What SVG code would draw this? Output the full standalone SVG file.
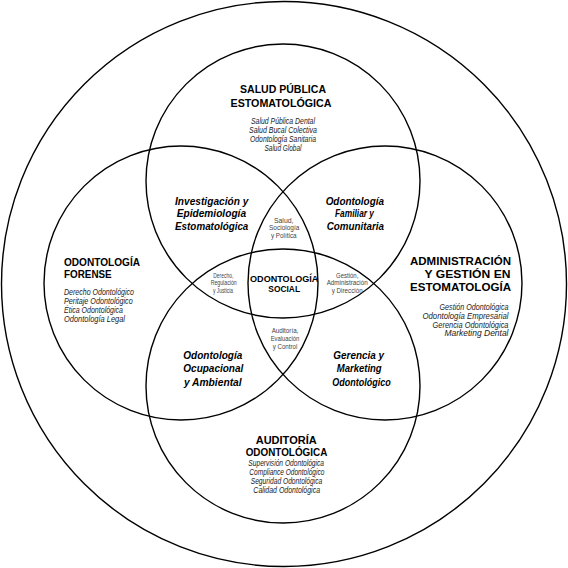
<svg xmlns="http://www.w3.org/2000/svg" width="568" height="568" viewBox="0 0 568 568">
<style>
text{font-family:"Liberation Sans",Arial,sans-serif;fill:#000}
.t{font-weight:bold}
.tm{text-anchor:middle}
.te{text-anchor:end}
.it{font-style:italic;font-size:8.4px;fill:#1a1a1a}
.bi{font-weight:bold;font-style:italic;font-size:11.6px;text-anchor:middle}
.sm{font-size:6.9px;fill:#444;text-anchor:middle}
.c{fill:none;stroke:#000;stroke-width:1.4}
</style>
<rect width="568" height="568" fill="#fff"/>
<g id="outer"><circle class="c" cx="284" cy="284" r="282.5"/></g>
<g id="salud-publica">
<circle class="c" cx="283" cy="181" r="137"/>
<text class="t tm" x="283" y="93.3" font-size="11.8" textLength="86" lengthAdjust="spacingAndGlyphs">SALUD PÚBLICA</text>
<text class="t tm" x="281" y="106.7" font-size="11.8" textLength="101" lengthAdjust="spacingAndGlyphs">ESTOMATOLÓGICA</text>
<text class="it tm" x="283" y="124.3" textLength="64" lengthAdjust="spacingAndGlyphs">Salud Pública Dental</text>
<text class="it tm" x="283" y="133.3" textLength="68" lengthAdjust="spacingAndGlyphs">Salud Bucal Colectiva</text>
<text class="it tm" x="283" y="142" textLength="66" lengthAdjust="spacingAndGlyphs">Odontología Sanitaria</text>
<text class="it tm" x="283" y="151" textLength="37" lengthAdjust="spacingAndGlyphs">Salud Global</text>
</g>
<g id="forense">
<circle class="c" cx="181" cy="283" r="137"/>
<text class="t" x="64" y="266" font-size="11" textLength="76" lengthAdjust="spacingAndGlyphs">ODONTOLOGÍA</text>
<text class="t" x="64" y="277.7" font-size="11" textLength="47.7" lengthAdjust="spacingAndGlyphs">FORENSE</text>
<text class="it" x="64" y="295.3" textLength="70" lengthAdjust="spacingAndGlyphs">Derecho Odontológico</text>
<text class="it" x="64" y="304.3" textLength="68.7" lengthAdjust="spacingAndGlyphs">Peritaje Odontológico</text>
<text class="it" x="64" y="313" textLength="59" lengthAdjust="spacingAndGlyphs">Ética Odontológica</text>
<text class="it" x="64" y="322" textLength="61" lengthAdjust="spacingAndGlyphs">Odontología Legal</text>
</g>
<g id="administracion">
<circle class="c" cx="385" cy="283" r="137"/>
<text class="t te" x="511" y="265" font-size="11.8" textLength="101" lengthAdjust="spacingAndGlyphs">ADMINISTRACIÓN</text>
<text class="t te" x="510.5" y="278" font-size="11.8" textLength="86" lengthAdjust="spacingAndGlyphs">Y GESTIÓN EN</text>
<text class="t te" x="511" y="291" font-size="11.8" textLength="101" lengthAdjust="spacingAndGlyphs">ESTOMATOLOGÍA</text>
<text class="it te" x="508.5" y="309.7" textLength="69" lengthAdjust="spacingAndGlyphs">Gestión Odontológica</text>
<text class="it te" x="508.5" y="318.7" textLength="86" lengthAdjust="spacingAndGlyphs">Odontología Empresarial</text>
<text class="it te" x="508.5" y="327.7" textLength="76" lengthAdjust="spacingAndGlyphs">Gerencia Odontológica</text>
<text class="it te" x="508.5" y="336.3" textLength="64" lengthAdjust="spacingAndGlyphs">Marketing Dental</text>
</g>
<g id="auditoria">
<circle class="c" cx="283" cy="386" r="137"/>
<text class="t tm" x="286.2" y="444" font-size="11.3" textLength="61" lengthAdjust="spacingAndGlyphs">AUDITORÍA</text>
<text class="t tm" x="286.5" y="456" font-size="11.3" textLength="81.6" lengthAdjust="spacingAndGlyphs">ODONTOLÓGICA</text>
<text class="it tm" x="286.2" y="466.3" textLength="75.7" lengthAdjust="spacingAndGlyphs">Supervisión Odontológica</text>
<text class="it tm" x="286.8" y="475.3" textLength="75" lengthAdjust="spacingAndGlyphs">Compliance Odontológico</text>
<text class="it tm" x="286.5" y="484.3" textLength="71.6" lengthAdjust="spacingAndGlyphs">Seguridad Odontológica</text>
<text class="it tm" x="286.7" y="493" textLength="66.7" lengthAdjust="spacingAndGlyphs">Calidad Odontológica</text>
</g>
<g id="investigacion">
<text class="bi" x="211.7" y="205" textLength="73.3" lengthAdjust="spacingAndGlyphs">Investigación y</text>
<text class="bi" x="211.4" y="217.3" textLength="69.3" lengthAdjust="spacingAndGlyphs">Epidemiología</text>
<text class="bi" x="211.7" y="230" textLength="73.3" lengthAdjust="spacingAndGlyphs">Estomatológica</text>
</g>
<g id="familiar">
<text class="bi" x="354.8" y="205" textLength="58.3" lengthAdjust="spacingAndGlyphs">Odontología</text>
<text class="bi" x="354.5" y="217.3" textLength="39" lengthAdjust="spacingAndGlyphs">Familiar y</text>
<text class="bi" x="355.3" y="230" textLength="57.3" lengthAdjust="spacingAndGlyphs">Comunitaria</text>
</g>
<g id="ocupacional">
<text class="bi" x="212.8" y="359.3" textLength="59" lengthAdjust="spacingAndGlyphs">Odontología</text>
<text class="bi" x="213.3" y="372.3" textLength="60" lengthAdjust="spacingAndGlyphs">Ocupacional</text>
<text class="bi" x="212.8" y="385.7" textLength="57.7" lengthAdjust="spacingAndGlyphs">y Ambiental</text>
</g>
<g id="gerencia">
<text class="bi" x="358.7" y="359.3" textLength="50.7" lengthAdjust="spacingAndGlyphs">Gerencia y</text>
<text class="bi" x="359.2" y="372.3" textLength="45" lengthAdjust="spacingAndGlyphs">Marketing</text>
<text class="bi" x="361.5" y="385.7" textLength="58.3" lengthAdjust="spacingAndGlyphs">Odontológico</text>
</g>
<g id="salud-sociologia">
<text class="sm" x="283.7" y="222.7">Salud,</text>
<text class="sm" x="284.2" y="230.3" textLength="30.3" lengthAdjust="spacingAndGlyphs">Sociología</text>
<text class="sm" x="283.8" y="238" textLength="25.7" lengthAdjust="spacingAndGlyphs">y Política</text>
</g>
<g id="derecho">
<text class="sm" x="223.3" y="277.7" textLength="20" lengthAdjust="spacingAndGlyphs">Derecho,</text>
<text class="sm" x="223.7" y="285.3" textLength="26" lengthAdjust="spacingAndGlyphs">Regulación</text>
<text class="sm" x="223" y="293.3" textLength="20" lengthAdjust="spacingAndGlyphs">y Justicia</text>
</g>
<g id="gestion">
<text class="sm" x="347.2" y="277.7" textLength="22.3" lengthAdjust="spacingAndGlyphs">Gestión,</text>
<text class="sm" x="347.2" y="285.3" textLength="41" lengthAdjust="spacingAndGlyphs">Administración</text>
<text class="sm" x="347.2" y="293.3" textLength="31" lengthAdjust="spacingAndGlyphs">y Dirección</text>
</g>
<g id="auditoria-evaluacion">
<text class="sm" x="285" y="332.7" textLength="26.7" lengthAdjust="spacingAndGlyphs">Auditoría,</text>
<text class="sm" x="285" y="341" textLength="28.7" lengthAdjust="spacingAndGlyphs">Evaluación</text>
<text class="sm" x="285" y="349.3" textLength="24.7" lengthAdjust="spacingAndGlyphs">y Control</text>
</g>
<g id="social">
<text class="t tm" x="284.2" y="281.7" font-size="9.6" textLength="68.3" lengthAdjust="spacingAndGlyphs">ODONTOLOGÍA</text>
<text class="t tm" x="284.2" y="292.3" font-size="9.6" textLength="31.7" lengthAdjust="spacingAndGlyphs">SOCIAL</text>
</g>
<g id="connectors"/>
</svg>
